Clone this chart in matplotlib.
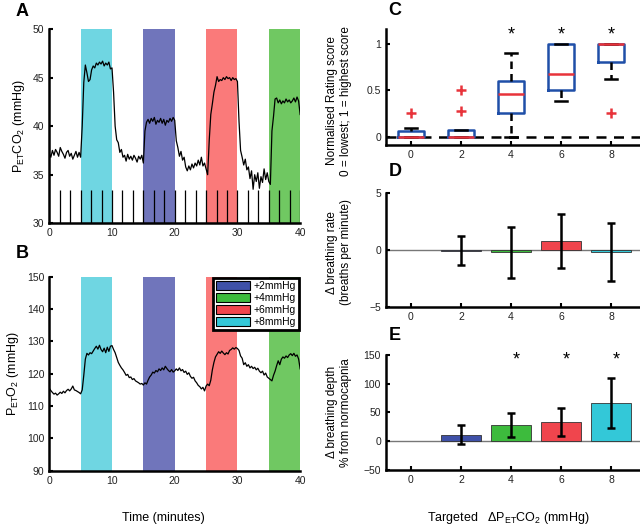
import numpy as np
import matplotlib
matplotlib.use("Agg")
import matplotlib.pyplot as plt
from matplotlib.patches import Patch

plt.rcParams['font.family'] = ['Liberation Sans', 'DejaVu Sans']
plt.rcParams['font.size'] = 7.5
plt.rcParams['mathtext.default'] = 'regular'

# end-tidal CO2 trace, one value every 0.25 min (0..40)
petco2 = [
    37.2, 36.8, 37.5, 37.0, 37.6, 37.3, 36.9, 37.8, 37.4, 37.1, 36.7, 37.3, 37.5, 36.9, 37.2, 36.6, 37.0, 37.4, 36.8, 37.3, 36.8,
    40.0, 44.5, 46.3, 45.5, 44.6, 44.8, 45.8, 46.2, 46.0, 46.5, 46.3, 46.6, 46.4, 46.7, 46.2, 46.5, 46.3, 46.6, 45.9, 46.0,
    43.5, 40.0, 38.6, 38.3, 37.3, 37.6, 36.8, 37.0, 36.4, 37.1, 36.6, 36.9, 36.5, 37.0, 36.7, 36.3, 36.9, 36.6, 37.0, 36.2,
    39.5, 40.4, 40.7, 40.3, 40.8, 40.5, 40.9, 40.2, 40.6, 40.4, 40.8, 40.3, 40.7, 40.1, 40.6, 40.4, 40.8, 40.5, 40.9, 40.6,
    38.5, 37.8, 36.9, 37.4, 36.5, 36.8, 35.8, 35.4, 35.9, 35.5, 36.1, 35.7, 36.2, 35.9, 36.5, 36.0, 36.8, 35.9, 36.2, 35.6,
    35.0, 38.5, 41.2, 42.3, 43.5, 44.2, 45.1, 44.6, 44.8, 44.7, 45.0, 44.8, 45.1, 44.9, 45.0, 44.7, 45.0, 44.8, 44.9, 44.6,
    40.5, 37.5, 36.8, 36.0, 36.6, 35.5, 35.8, 34.6, 35.4, 33.5, 35.0, 34.3, 35.2, 33.6, 34.8, 34.2, 35.6, 34.5, 35.2, 34.3,
    34.0, 39.5, 41.0, 42.8, 42.9, 42.4, 42.7, 42.3, 42.6, 42.4, 42.8, 42.5, 42.7, 42.4, 42.6, 42.9, 42.5, 43.0, 42.6, 41.2,
]

# end-tidal O2 trace, one value every 0.25 min (0..40)
peto2 = [
    115.5, 114.8, 114.2, 113.7, 114.0, 113.4, 113.8, 114.3, 113.9, 114.6, 114.1, 114.8, 115.2, 114.7, 115.3, 116.2, 115.0, 114.8, 114.5, 114.2, 113.8,
    115.0, 119.5, 124.5, 126.3, 125.8, 126.5, 126.2, 127.0, 127.8, 128.5, 127.6, 128.8, 127.5, 126.8, 127.9, 126.5, 128.2, 126.9, 128.5, 128.7,
    127.5, 126.5, 125.0, 123.5, 122.6, 121.8, 121.2, 120.4, 119.5, 119.8, 118.8, 119.0, 118.2, 118.5, 117.8, 117.5, 117.2, 116.8, 117.0, 116.5,
    117.2, 116.8, 118.0, 119.0, 119.6, 120.5, 120.2, 121.0, 120.6, 121.5, 121.0, 121.8, 121.2, 122.3, 121.6, 121.0, 120.6, 121.3, 120.5, 120.9,
    121.5, 121.0, 121.8, 120.9, 121.3, 120.4, 120.8, 119.8, 120.3, 119.2, 118.6, 118.9, 117.8, 117.2, 116.4, 116.0, 115.3, 115.8, 114.7, 116.2,
    116.8, 116.3, 118.0, 121.2, 123.5, 125.2, 126.0, 126.8, 126.3, 127.0, 126.4, 125.9, 126.5, 126.1, 127.2, 127.5, 128.0, 127.6, 128.1, 127.8,
    127.2, 125.5, 124.8, 122.8, 123.4, 122.3, 122.8, 121.8, 122.3, 121.6, 122.0, 121.2, 121.7, 120.8, 120.3, 120.8, 119.6, 120.2, 119.0, 118.6,
    118.2, 117.8, 119.5, 120.8, 122.5, 124.0, 122.8, 124.5, 125.2, 124.8, 125.5, 125.0, 125.8, 126.2, 125.6, 126.3, 125.4, 125.8, 124.6, 121.5,
]
time_min = np.linspace(0, 40, len(petco2))

# stimulus blocks (start, end) and labels
blocks = [(5, 10), (15, 20), (25, 30), (35, 40)]
block_colors = ['#6FD6E2', '#7075BB', '#FA7A7A', '#70C862']
rating_times = np.arange(1, 25) * 5 / 3

levels = ['+2mmHg', '+4mmHg', '+6mmHg', '+8mmHg']
level_colors = ['#3F51A8', '#3DBB3D', '#F0454D', '#33C8D8']

# panel C: rating score box stats
targets = [0, 2, 4, 6, 8]
q1 = [0.0, 0.0, 0.25, 0.5, 0.8]
med = [0.0, 0.0, 0.46, 0.68, 1.0]
q3 = [0.06, 0.07, 0.6, 1.0, 1.0]
wlo = [0.0, 0.0, 0.0, 0.38, 0.62]
whi = [0.09, 0.07, 0.9, 1.0, 1.0]
outliers = [[0.25], [0.28, 0.5], [], [], [0.25]]

# panel D / E
bar_x = [2, 4, 6, 8]
rate = [-0.06, -0.2, 0.8, -0.16]
rate_err = [1.3, 2.25, 2.35, 2.55]
depth = [11, 28, 33, 66]
depth_err = [17, 21, 24, 44]

fig = plt.figure(figsize=(6.4, 5.29), dpi=100)


def style_axes(ax):
    for s in ['top', 'right']:
        ax.spines[s].set_visible(False)
    for s in ['left', 'bottom']:
        ax.spines[s].set_linewidth(1.8)
    ax.tick_params(direction='in', length=3, width=1.5, colors='black', labelcolor='#222222')


# ---- A ----
axA = fig.add_axes([0.077, 0.578, 0.392, 0.367])
for (a, b), c in zip(blocks, block_colors):
    axA.axvspan(a, b, color=c, lw=0)
axA.vlines(rating_times, 30, 33.4, color='black', lw=0.9)
axA.plot(time_min, petco2, color='black', lw=0.9)
axA.set_xlim(0, 40)
axA.set_ylim(30, 50)
axA.set_xticks([0, 10, 20, 30, 40])
axA.set_yticks([30, 35, 40, 45, 50])
style_axes(axA)
axA.tick_params(axis='x', length=0)
axA.set_ylabel('P$_{ET}$CO$_2$ (mmHg)', fontsize=9, labelpad=4)

# ---- B ----
axB = fig.add_axes([0.077, 0.110, 0.392, 0.367])
for (a, b), c in zip(blocks, block_colors):
    axB.axvspan(a, b, color=c, lw=0)
axB.plot(time_min, peto2, color='black', lw=0.9)
axB.set_xlim(0, 40)
axB.set_ylim(90, 150)
axB.set_xticks([0, 10, 20, 30, 40])
axB.set_yticks([90, 100, 110, 120, 130, 140, 150])
style_axes(axB)
axB.tick_params(axis='x', length=0)
axB.set_ylabel('P$_{ET}$O$_2$ (mmHg)', fontsize=9, labelpad=4)
handles = [Patch(facecolor=c, edgecolor='black', lw=0.8, label=l) for c, l in zip(level_colors, levels)]
leg = axB.legend(handles=handles, loc='upper right', fontsize=7.5, frameon=True, fancybox=False,
                 borderaxespad=0.1, handlelength=3.3, handleheight=0.9, handletextpad=0.3,
                 labelspacing=0.2, borderpad=0.3)
leg.get_frame().set_edgecolor('black')
leg.get_frame().set_linewidth(2)
leg.get_frame().set_alpha(1)

fig.text(0.255, 0.02, 'Time (minutes)', ha='center', va='center', fontsize=9)

# ---- C ----
axC = fig.add_axes([0.603, 0.726, 0.397, 0.219])
stats = []
for i in range(len(targets)):
    stats.append(dict(q1=q1[i], med=med[i], q3=q3[i], whislo=wlo[i], whishi=whi[i], fliers=outliers[i]))
axC.axhline(0, color='black', lw=1.8, ls=(0, (4, 3)), zorder=1)
axC.bxp(stats, positions=targets, widths=1.05, showfliers=True,
        boxprops=dict(color='#1F4FA8', lw=1.8),
        medianprops=dict(color='#E8333A', lw=1.8),
        whiskerprops=dict(color='black', lw=1.8, ls=(0, (3, 2))),
        capprops=dict(color='black', lw=1.8),
        capwidths=0.5,
        flierprops=dict(marker='+', markeredgecolor='#E8333A', markersize=7, markeredgewidth=1.8))
for x in [4, 6, 8]:
    axC.text(x, 1.1, '*', ha='center', va='center', fontsize=13)
axC.set_xlim(-1, 9.15)
axC.set_ylim(-0.09, 1.16)
axC.set_xticks(targets)
axC.set_xticklabels([str(t) for t in targets])
axC.set_yticks([0, 0.5, 1])
axC.set_yticklabels(['0', '0.5', '1'])
style_axes(axC)
axC.set_ylabel('Normalised Rating score\n0 = lowest; 1 = highest score', fontsize=8.5)
axC.yaxis.set_label_coords(-0.135, 0.38)

# ---- D ----
axD = fig.add_axes([0.603, 0.420, 0.397, 0.215])
axD.axhline(0, color='#777777', lw=1, zorder=1)
axD.bar(bar_x, rate, width=1.62, color=level_colors, edgecolor='#333333', lw=0.6, zorder=2)
axD.errorbar(bar_x, rate, yerr=rate_err, fmt='none', ecolor='black', elinewidth=1.8, capsize=3, capthick=1.8, zorder=3)
axD.set_xlim(-1, 9.15)
axD.set_ylim(-5, 5)
axD.set_xticks(targets)
axD.set_yticks([-5, 0, 5])
style_axes(axD)
axD.set_ylabel('Δ breathing rate\n(breaths per minute)', fontsize=8.5)
axD.yaxis.set_label_coords(-0.135, 0.48)

# ---- E ----
axE = fig.add_axes([0.603, 0.112, 0.397, 0.217])
axE.axhline(0, color='#777777', lw=1, zorder=1)
axE.bar(bar_x, depth, width=1.62, color=level_colors, edgecolor='#333333', lw=0.6, zorder=2)
axE.errorbar(bar_x, depth, yerr=depth_err, fmt='none', ecolor='black', elinewidth=1.8, capsize=3, capthick=1.8, zorder=3)
for x in [4, 6, 8]:
    axE.text(x + 0.2, 141, '*', ha='center', va='center', fontsize=13)
axE.set_xlim(-1, 9.15)
axE.set_ylim(-50, 150)
axE.set_xticks(targets)
axE.set_yticks([-50, 0, 50, 100, 150])
style_axes(axE)
axE.set_ylabel('Δ breathing depth\n% from normocapnia', fontsize=8.5)
axE.yaxis.set_label_coords(-0.135, 0.5)

fig.text(0.794, 0.02, 'Targeted   ΔP$_{ET}$CO$_2$ (mmHg)', ha='center', va='center', fontsize=9)

# panel letters
for lbl, x, y in [('A', 0.034, 0.979), ('B', 0.034, 0.521), ('C', 0.617, 0.981),
                  ('D', 0.617, 0.675), ('E', 0.617, 0.365)]:
    fig.text(x, y, lbl, fontsize=13, fontweight='bold', ha='center', va='center')

fig.savefig('out.png', dpi=100)
